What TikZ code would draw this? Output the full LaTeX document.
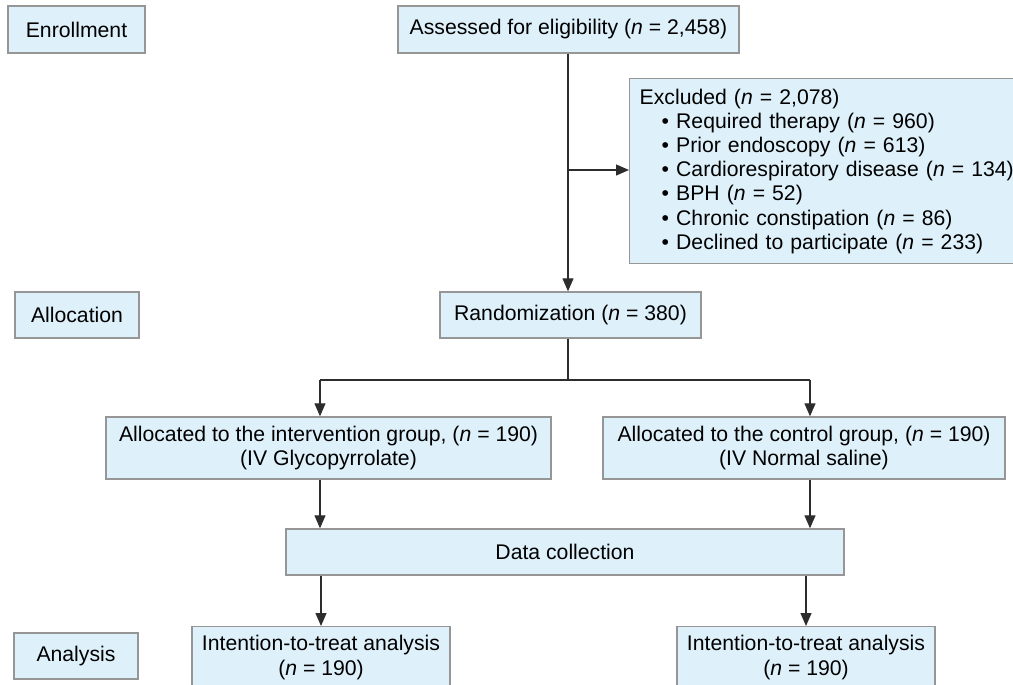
\documentclass[tikz,border=0pt]{standalone}
\usepackage{fontspec}
\setmainfont{Liberation Sans}
\usetikzlibrary{arrows.meta}
\definecolor{boxfill}{RGB}{222,241,250}
\definecolor{boxline}{RGB}{150,150,150}
\definecolor{linecol}{RGB}{45,45,45}
\tikzset{
  box/.style={draw=boxline,fill=boxfill,line width=0.7pt,inner sep=0pt,align=center,
    font=\fontsize{10.6}{12.2}\selectfont},
  >={Triangle[length=6.5pt,width=5.5pt]}
}
\newcommand{\nn}{\textit{n}}

\begin{document}
\begin{tikzpicture}[x=0.5pt,y=-0.5pt,line width=0.65pt,draw=linecol]
      \useasboundingbox (0,0) rectangle (1013,685);
      % stage labels
      \node[box,minimum width=68.5pt,minimum height=23.5pt] (enroll) at (76.5,29.5) {Enrollment};
      \node[box,minimum width=62pt,minimum height=23pt] (alloc) at (77,315) {Allocation};
      \node[box,minimum width=62pt,minimum height=23pt] (anal) at (76,656) {Analysis};
      % flow boxes
      \node[box,minimum width=170.5pt,minimum height=23.5pt] (assess) at (568.5,29.5) {Assessed for eligibility (\nn{} = 2,458)};
      \node[box,anchor=north west,minimum height=92.5pt,align=left,
            text width=200pt,inner xsep=5pt,font=\fontsize{10.6}{12.1}\selectfont] (excl) at (629,78)
            {Excluded (\nn{} = 2,078)\\
             \hspace*{11pt}• Required therapy (\nn{} = 960)\\
             \hspace*{11pt}• Prior endoscopy (\nn{} = 613)\\
             \hspace*{11pt}• Cardiorespiratory disease (\nn{} = 134)\\
             \hspace*{11pt}• BPH (\nn{} = 52)\\
             \hspace*{11pt}• Chronic constipation (\nn{} = 86)\\
             \hspace*{11pt}• Declined to participate (\nn{} = 233)};
      \node[box,minimum width=130.5pt,minimum height=23pt] (rand) at (570.5,315) {Randomization (\nn{} = 380)};
      \node[box,minimum width=222.5pt,minimum height=31pt] (intv) at (328.5,448)
            {Allocated to the intervention group, (\nn{} = 190)\\(IV Glycopyrrolate)};
      \node[box,minimum width=201pt,minimum height=31pt] (ctrl) at (804,448)
            {Allocated to the control group, (\nn{} = 190)\\(IV Normal saline)};
      \node[box,minimum width=279pt,minimum height=23pt] (data) at (565,552) {Data collection};
      \node[box,anchor=north,minimum width=129pt,minimum height=31pt] (itt1) at (321,626)
            {Intention-to-treat analysis\\(\nn{} = 190)};
      \node[box,anchor=north,minimum width=129pt,minimum height=31pt] (itt2) at (806,626)
            {Intention-to-treat analysis\\(\nn{} = 190)};
      % connectors
      \coordinate (exc) at (568,170);
      \coordinate (split) at (568,380);
      \coordinate (lt) at (320,380);
      \coordinate (rt) at (810,380);
      \draw[->] (assess.south -| exc) -- (rand.north -| exc);
      \draw[->] (exc) -- (excl.west |- exc);
      \draw (rand.south -| split) -- (split);
      \draw (lt) -- (rt);
      \draw[->] (lt) -- (lt |- intv.north);
      \draw[->] (rt) -- (rt |- ctrl.north);
      \draw[->] (lt |- intv.south) -- (lt |- data.north);
      \draw[->] (rt |- ctrl.south) -- (rt |- data.north);
      \draw[->] (itt1 |- data.south) -- (itt1.north);
      \draw[->] (itt2 |- data.south) -- (itt2.north);
\end{tikzpicture}
\end{document}
